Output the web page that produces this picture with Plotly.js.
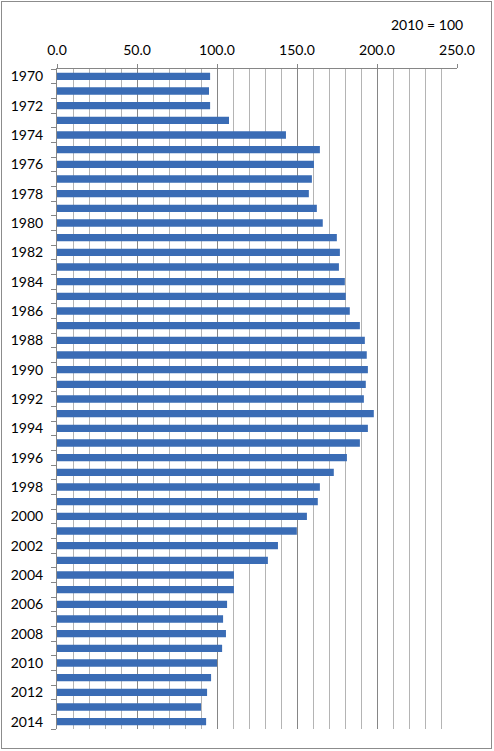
<!DOCTYPE html>
<html>
<head>
<meta charset="utf-8">
<script src="https://cdn.plot.ly/plotly-3.0.1.min.js"></script>
<style>
  body { margin: 0; background: #fff; }
  #plot { width: 494px; height: 751px; }
  #frame { position: absolute; left: 1px; top: 1px; width: 489px; height: 746px;
           border: 1px solid #8c8c8c; pointer-events: none; }
</style>
</head>
<body>
<div id="plot"></div>
<div id="frame"></div>
<script>
// index, 2010 = 100
let years = [1970, 1971, 1972, 1973, 1974, 1975, 1976, 1977, 1978, 1979,
             1980, 1981, 1982, 1983, 1984, 1985, 1986, 1987, 1988, 1989,
             1990, 1991, 1992, 1993, 1994, 1995, 1996, 1997, 1998, 1999,
             2000, 2001, 2002, 2003, 2004, 2005, 2006, 2007, 2008, 2009,
             2010, 2011, 2012, 2013, 2014];
let values = [95.7, 95.0, 95.7, 107.5, 143.1, 164.3, 160.6, 159.3, 157.4, 162.4,
              166.1, 174.9, 176.8, 176.2, 179.9, 180.5, 183.0, 189.3, 192.4, 193.6,
              194.3, 193.0, 191.8, 198.0, 194.3, 189.3, 181.2, 173.0, 164.3, 163.0,
              156.2, 149.9, 138.1, 131.8, 110.6, 110.6, 106.3, 103.8, 105.6, 103.2,
              100.0, 96.3, 93.8, 90.0, 93.2];
let yearLabels = years.filter((y, i) => i % 2 === 0);
let baseNote = '2010 = 100';

let font = {family: 'Lato, "Open Sans", sans-serif', size: 14, color: '#000'};

Plotly.newPlot('plot', [{
    type: 'bar',
    orientation: 'h',
    x: values,
    y: years,
    marker: {color: '#3a6cb5', line: {width: 0}},
    hoverinfo: 'x+y'
}], {
    width: 494,
    height: 751,
    margin: {l: 57, r: 36.5, t: 69, b: 22},
    paper_bgcolor: '#fff',
    plot_bgcolor: '#fff',
    font: font,
    bargap: 0.5,
    showlegend: false,
    xaxis: {
        side: 'top',
        range: [0, 250],
        dtick: 50,
        tick0: 0,
        tickformat: '.1f',
        ticks: 'outside',
        ticklen: 4,
        tickcolor: '#868686',
        ticklabelstandoff: 3,
        showline: true,
        linecolor: '#868686',
        linewidth: 1,
        showgrid: true,
        gridcolor: '#868686',
        gridwidth: 1,
        zeroline: false,
        minor: {dtick: 10, showgrid: true, gridcolor: '#b4b4b4', gridwidth: 1, ticks: ''},
        fixedrange: true
    },
    yaxis: {
        range: [2014.5, 1969.5],
        tickvals: yearLabels,
        ticktext: yearLabels.map(String),
        ticks: '',
        ticklabelstandoff: 10,
        showline: true,
        linecolor: '#868686',
        linewidth: 1,
        showgrid: false,
        zeroline: false,
        minor: {dtick: 1, tick0: 0.5, ticks: 'outside', ticklen: 5, tickcolor: '#868686', showgrid: false},
        fixedrange: true
    },
    annotations: [{
        text: baseNote,
        xref: 'paper', yref: 'paper',
        x: 1.021, y: 1.0667,
        xanchor: 'right', yanchor: 'middle',
        showarrow: false,
        font: font
    }]
}, {displayModeBar: false, staticPlot: true});
</script>
</body>
</html>
